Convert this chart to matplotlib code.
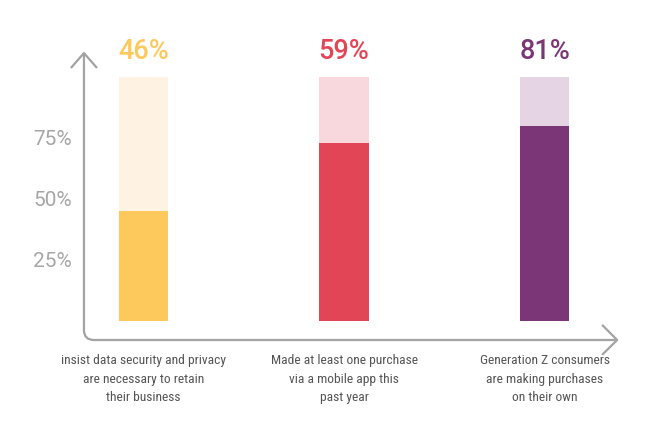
import matplotlib
matplotlib.use("Agg")
import matplotlib.pyplot as plt
from matplotlib.path import Path
from matplotlib.patches import PathPatch

# values
categories = [
    "insist data security and privacy\nare necessary to retain\ntheir business",
    "Made at least one purchase\nvia a mobile app this\npast year",
    "Generation Z consumers\nare making purchases\non their own",
]
filled = [45, 73, 80]          # height of the dark part of each bar
full = [100, 100, 100]         # light background part
value_labels = ["46%", "59%", "81%"]
yticks = [25, 50, 75]
ytick_labels = ["25%", "50%", "75%"]

dark = ["#fdc85c", "#e24556", "#7b3677"]
light = ["#fef3e3", "#f9d8dd", "#e4d4e4"]
axis_grey = "#a3a3a3"
narrow = ["Roboto Condensed", "Sofia Sans Condensed", "DejaVu Sans"]

fig = plt.figure(figsize=(6.6, 4.4), dpi=100)
ax = fig.add_axes([0.1111, 0.1818, 0.8355, 0.7264])
ax.set_xlim(-0.35, 2.4)
ax.set_ylim(-16, 115)

x = list(range(len(categories)))
w = 0.245
ax.bar(x, full, w, color=light, zorder=1)
ax.bar(x, filled, w, color=dark, zorder=2)

for xi, lab, c in zip(x, value_labels, dark):
    ax.text(xi, 110.5, lab, ha="center", va="center", fontsize=19.5,
            color=c, family=["Roboto", "DejaVu Sans"], fontweight="medium")

for xi, cat in zip(x, categories):
    ax.annotate(cat, xy=(xi, 0), xytext=(0, -24), textcoords="offset points",
                ha="center", va="top", multialignment="center",
                fontsize=9.7, linespacing=1.52, color="#555555",
                family=narrow, annotation_clip=False)

ax.set_yticks(yticks)
ax.set_yticklabels(ytick_labels, fontsize=15, color="#a6a6a6",
                   family=["Roboto", "DejaVu Sans"])
ax.tick_params(axis="y", length=0, pad=1)
ax.set_xticks([])
for s in ax.spines.values():
    s.set_visible(False)

# axes drawn by hand: rounded corner and open arrow heads
x0, y0 = -0.297, -7.8
ytop, xend = 109.8, 2.362
verts = [(x0, ytop), (x0, y0 + 4.1), (x0, y0), (x0 + 0.05, y0), (xend, y0)]
codes = [Path.MOVETO, Path.LINETO, Path.CURVE3, Path.CURVE3, Path.LINETO]
ax.add_patch(PathPatch(Path(verts, codes), fill=False, ec=axis_grey, lw=1.6,
                       clip_on=False, zorder=3))
ax.plot([x0 - 0.065, x0, x0 + 0.065], [103.7, ytop, 103.7], color=axis_grey,
        lw=1.6, clip_on=False, solid_capstyle="butt", zorder=3)
ax.plot([2.287, xend, 2.287], [-1.6, y0, -13.9], color=axis_grey,
        lw=1.6, clip_on=False, solid_capstyle="butt", zorder=3)

fig.savefig("out.png", dpi=100)
